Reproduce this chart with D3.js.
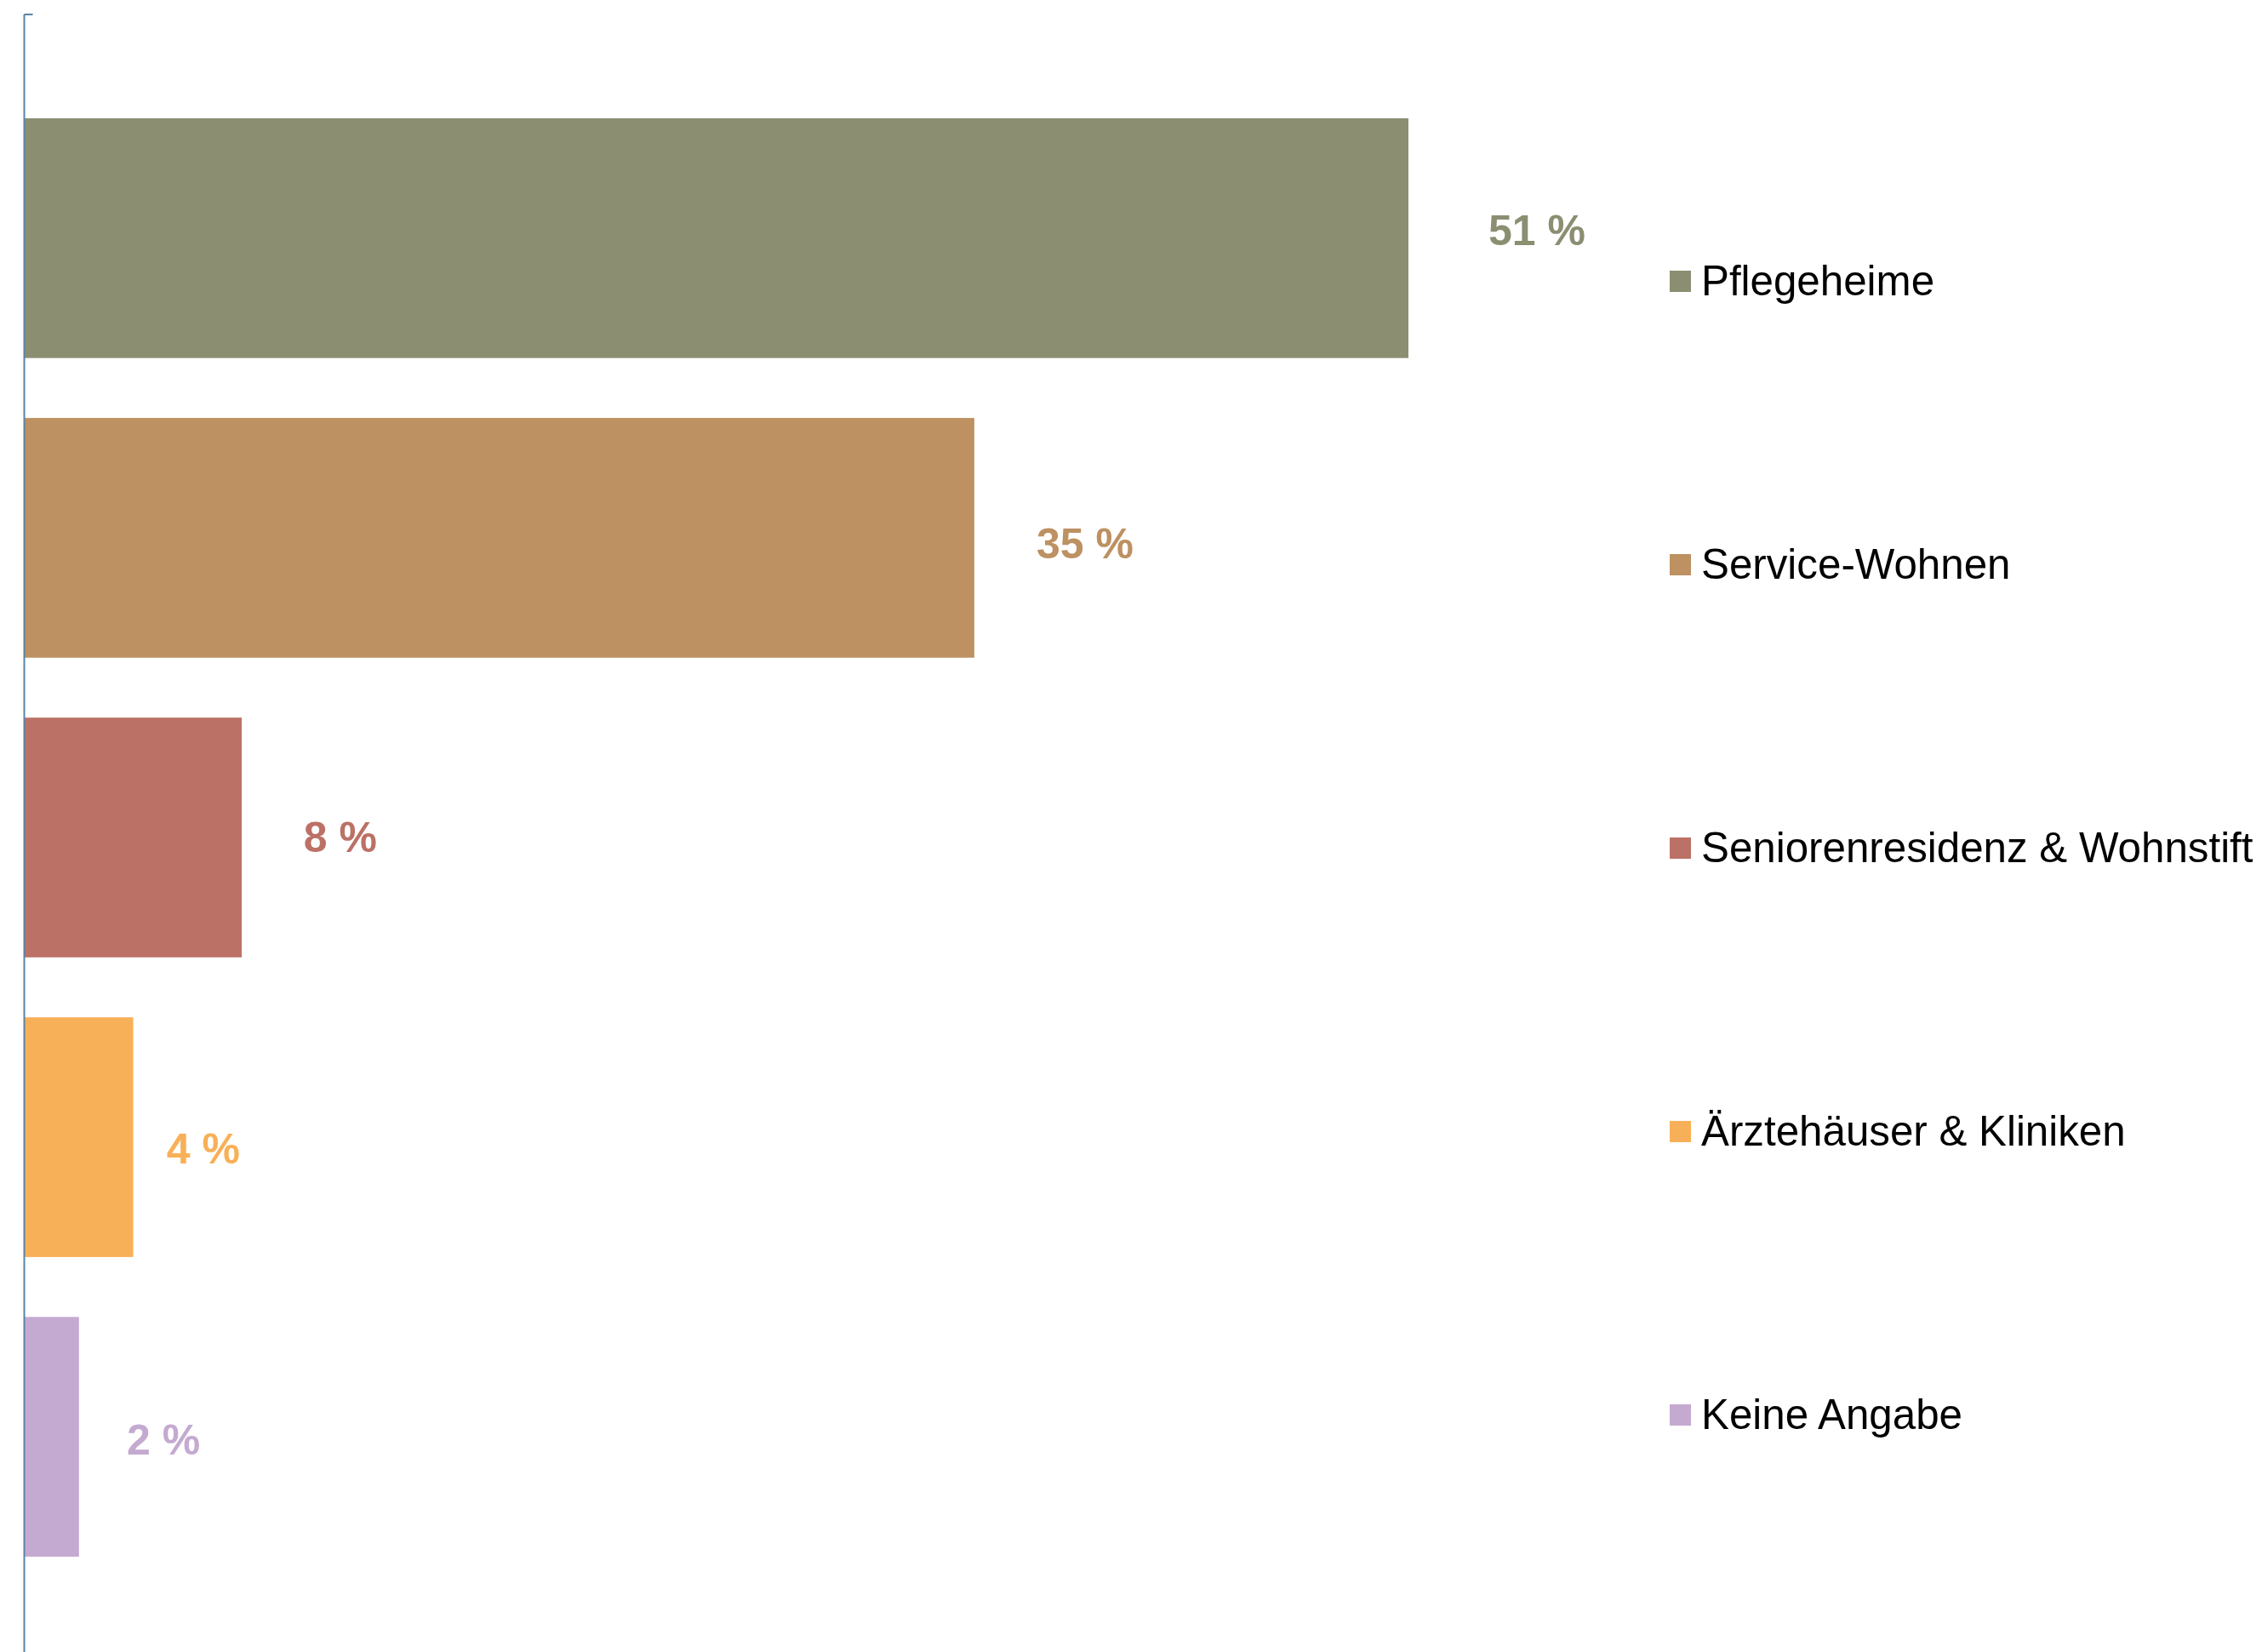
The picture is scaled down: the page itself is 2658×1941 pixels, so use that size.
<!DOCTYPE html>
<html>
<head>
<meta charset="utf-8">
<script src="https://cdn.jsdelivr.net/npm/d3@7"></script>
<style>
  html, body { margin: 0; padding: 0; background: #ffffff; }
  svg { display: block; }
</style>
</head>
<body>
<script>
// ---- data ----
const categories = ["Pflegeheime", "Service-Wohnen", "Seniorenresidenz & Wohnstift", "Ärztehäuser & Kliniken", "Keine Angabe"];
const values = [51, 35, 8, 4, 2];
const valueLabels = ["51 %", "35 %", "8 %", "4 %", "2 %"];
const colors = ["#8B8E71", "#BD9161", "#BC7166", "#F8B058", "#C4AAD0"];
// manual label nudges (as placed in the original)
const labelDx = [94, 73, 72.7, 39.2, 56.2];
const labelDy = [-10, 6, -1, 13, 3];

// ---- layout ----
const W = 2658, H = 1941;
const svg = d3.select("body").append("svg").attr("width", W).attr("height", H);

const x = d3.scaleLinear().domain([0, 51]).range([29, 1655]);
const y = d3.scaleBand().domain(categories).range([139, 1829]).paddingInner(0.2).paddingOuter(0);

// bars
svg.append("g").selectAll("rect").data(categories).join("rect")
  .attr("x", x(0))
  .attr("y", d => y(d))
  .attr("width", (d, i) => x(values[i]) - x(0))
  .attr("height", y.bandwidth())
  .attr("fill", (d, i) => colors[i]);

// value labels
const fs = 50;
svg.append("g").selectAll("text").data(categories).join("text")
  .attr("x", (d, i) => x(values[i]) + labelDx[i])
  .attr("y", (d, i) => y(d) + y.bandwidth() / 2 + labelDy[i] + fs * 0.358)
  .attr("font-family", "'Liberation Sans', Arial, sans-serif")
  .attr("font-weight", "bold")
  .attr("font-size", fs)
  .attr("fill", (d, i) => colors[i])
  .text((d, i) => valueLabels[i]);

// axis (category axis, no labels)
const axis = d3.axisLeft(y).tickValues([]).tickSizeOuter(0).tickSize(0);
const axG = svg.append("g").attr("transform", "translate(28.5,0)").call(axis);
axG.select(".domain").remove();
axG.append("line")
  .attr("x1", 0).attr("x2", 0).attr("y1", 17).attr("y2", H)
  .attr("stroke", "#5883a6").attr("stroke-width", 2);
axG.append("line")
  .attr("x1", 0).attr("x2", 10).attr("y1", 17).attr("y2", 17)
  .attr("stroke", "#5883a6").attr("stroke-width", 2);

// legend
const legendY = d3.scalePoint().domain(categories).range([330.5, 1662.5]);
const lg = svg.append("g").selectAll("g").data(categories).join("g")
  .attr("transform", d => `translate(1962,${legendY(d)})`);
lg.append("rect")
  .attr("x", 0).attr("y", -12.5).attr("width", 25).attr("height", 25)
  .attr("fill", (d, i) => colors[i]);
lg.append("text")
  .attr("x", 37)
  .attr("y", 16.5)
  .attr("font-family", "'Liberation Sans', Arial, sans-serif")
  .attr("font-size", 49.3)
  .attr("fill", "#000000")
  .text(d => d);
</script>
</body>
</html>
